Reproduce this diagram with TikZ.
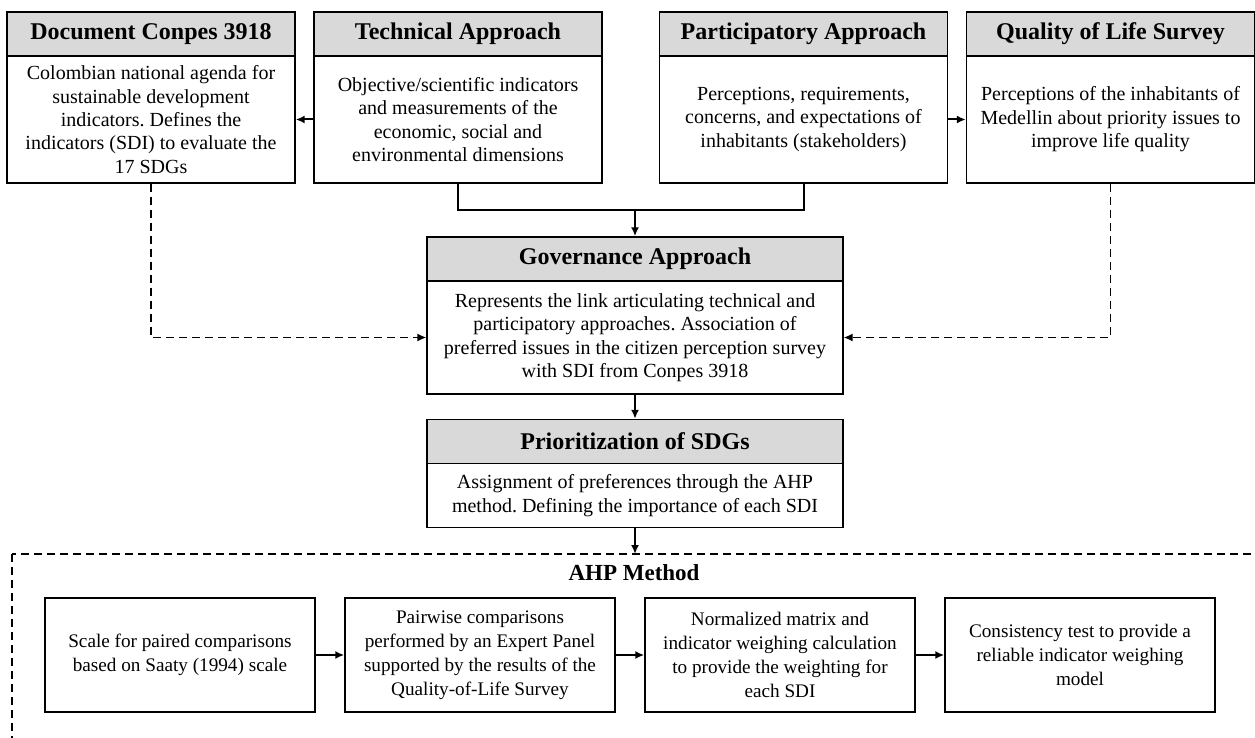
\documentclass[tikz,border=0pt]{standalone}
\usepackage{fontspec}
\setmainfont{Liberation Serif}
\usetikzlibrary{arrows.meta}
\frenchspacing
\begin{document}
\begin{tikzpicture}[x=0.5pt,y=-0.5pt,
head/.style={draw,fill=black!15,line width=0.7pt,minimum width=#1,minimum height=22pt,inner sep=0pt,font=\fontsize{12}{14}\selectfont\bfseries},
head/.default=144pt,
bodybox/.style={draw,line width=0.7pt,minimum width=#1,inner sep=0pt,align=center,font=\fontsize{10}{11.7}\selectfont},
bodybox/.default=144pt,
ahpbox/.style={draw,line width=0.7pt,minimum width=135pt,minimum height=57pt,inner sep=0pt,align=center,font=\fontsize{9.6}{12}\selectfont},
link/.style={-{Latex[length=4.5pt,width=4pt]},line width=1pt},
dlink/.style={-{Latex[length=4.5pt,width=4pt]},line width=0.7pt,dash pattern=on 4pt off 2.5pt}
]
\useasboundingbox (0,0) rectangle (1255,738);
\node[head] (docH) at (151,34) {Document Conpes 3918};
\node[bodybox,minimum height=63.5pt] (docB) at (151,119.5) {Colombian national agenda for\\sustainable development\\indicators. Defines the\\indicators (SDI) to evaluate the\\17 SDGs};
\node[head] (techH) at (458,34) {Technical Approach};
\node[bodybox,minimum height=63.5pt] (techB) at (458,119.5) {Objective/scientific indicators\\and measurements of the\\economic, social and\\environmental dimensions};
\node[head] (partH) at (803.5,34) {Participatory Approach};
\node[bodybox,minimum height=63.5pt] (partB) at (803.5,119.5) {Perceptions, requirements,\\concerns, and expectations of\\inhabitants (stakeholders)};
\node[head] (qualH) at (1110.5,34) {Quality of Life Survey};
\node[bodybox,minimum height=63.5pt] (qualB) at (1110.5,119.5) {Perceptions of the inhabitants of\\Medellin about priority issues to\\improve life quality};
\node[head=208pt] (govH) at (635,259) {Governance Approach};
\node[bodybox=208pt,minimum height=56.5pt] (govB) at (635,337.5) {Represents the link articulating technical and\\participatory approaches. Association of\\preferred issues in the citizen perception survey\\with SDI from Conpes 3918};
\node[head=208pt] (priH) at (635,441.5) {Prioritization of SDGs};
\node[bodybox=208pt,minimum height=32pt] (priB) at (635,495.5) {Assignment of preferences through the AHP\\method. Defining the importance of each SDI};
\draw[line width=0.7pt,dash pattern=on 4pt off 2.5pt] (12,554) rectangle (1280,770);
\coordinate (frametop) at (635,554);
\node[font=\fontsize{11.5}{13}\selectfont\bfseries] (ahp) at (634,573) {AHP Method};
\foreach \i/\x/\t in {1/180/{Scale for paired comparisons\\based on Saaty (1994) scale},
  2/480/{Pairwise comparisons\\performed by an Expert Panel\\supported by the results of the\\Quality-of-Life Survey},
  3/780/{Normalized matrix and\\indicator weighing calculation\\to provide the weighting for\\each SDI},
  4/1080/{Consistency test to provide a\\reliable indicator weighing\\model}}
  \node[ahpbox] (a\i) at (\x,655) {\t};
\foreach \i/\j in {1/2,2/3,3/4}
  \draw[link] (a\i) -- (a\j);
\draw[link] (techB) -- (docB);
\draw[link] (partB) -- (qualB);
\draw[line width=1pt] (techB.south) -- ++(0,26) -| (partB.south);
\coordinate (merge) at (635,209);
\draw[link] (merge) -- (govH);
\draw[dlink] (docB.south) |- (govB.west);
\draw[dlink] (qualB.south) |- (govB.east);
\draw[link] (govB) -- (priH);
\draw[link] (priB) -- (frametop);
\end{tikzpicture}
\end{document}
